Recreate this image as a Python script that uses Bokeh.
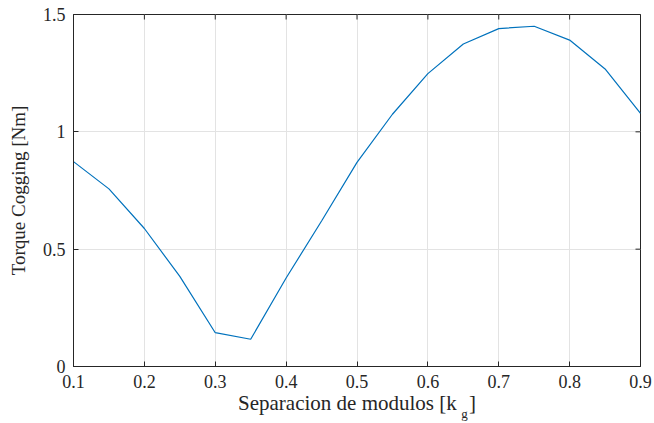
from math import pi
from bokeh.plotting import figure
from bokeh.models import Range1d, FixedTicker, LinearAxis
from bokeh.embed import file_html
from bokeh.resources import INLINE

separation = [0.1, 0.15, 0.2, 0.25, 0.3, 0.35, 0.4, 0.45, 0.5, 0.55, 0.6, 0.65, 0.7, 0.75, 0.8, 0.85, 0.9]
torque = [0.873, 0.757, 0.588, 0.384, 0.144, 0.116, 0.377, 0.620, 0.870, 1.075, 1.248, 1.374, 1.440, 1.450, 1.391, 1.268, 1.079]

x_ticks = [0.1, 0.2, 0.3, 0.4, 0.5, 0.6, 0.7, 0.8, 0.9]
x_tick_labels = ["0.1", "0.2", "0.3", "0.4", "0.5", "0.6", "0.7", "0.8", "0.9"]
y_ticks = [0, 0.5, 1, 1.5]
y_tick_labels = ["0", "0.5", "1", "1.5"]

FONT = "Liberation Serif"
TXT = "#262626"

p = figure(width=654, height=423, output_backend="svg", toolbar_location=None,
           x_range=Range1d(0.1, 0.9), y_range=Range1d(0, 1.5),
           min_border_left=73, min_border_right=14, min_border_top=14, min_border_bottom=54)

p.line(separation, torque, line_color="#0072BD", line_width=1.2)

# inward ticks on top and right edges (half of each dash is clipped by the frame)
p.scatter(x=x_ticks, y=[1.5] * len(x_ticks), marker="dash", angle=pi / 2, size=10,
          line_color=TXT, line_width=1)
p.scatter(x=[0.9] * len(y_ticks), y=y_ticks, marker="dash", size=10,
          line_color=TXT, line_width=1)

p.outline_line_color = TXT
p.outline_line_width = 1
p.background_fill_color = "white"
p.border_fill_color = "white"

for g in (p.xgrid[0], p.ygrid[0]):
    g.grid_line_color = "#e3e3e3"
    g.grid_line_width = 1

xa = p.xaxis[0]
xa.ticker = FixedTicker(ticks=x_ticks)
xa.major_label_overrides = {t: l for t, l in zip(x_ticks, x_tick_labels)}
ya = p.yaxis[0]
ya.ticker = FixedTicker(ticks=y_ticks)
ya.major_label_overrides = {t: l for t, l in zip(y_ticks, y_tick_labels)}

for a in (xa, ya):
    a.major_tick_in = 5
    a.major_tick_out = 0
    a.minor_tick_line_color = None
    a.axis_line_color = TXT
    a.major_tick_line_color = TXT
    a.major_label_text_font = FONT
    a.major_label_text_font_size = "18px"
    a.major_label_text_color = TXT
    a.axis_label_text_font = FONT
    a.axis_label_text_font_style = "normal"
    a.axis_label_text_color = TXT

xa.major_label_standoff = 8
ya.major_label_standoff = 8
ya.axis_label = "Torque Cogging [Nm]"
ya.axis_label_text_font_size = "19px"
ya.axis_label_standoff = 11
xa.axis_label = "Separacion de modulos [k\u2002\u200a]"
xa.axis_label_text_font_size = "21px"
xa.axis_label_standoff = 0

# subscript "g" of the x axis label, drawn as the single label of a bare extra axis
G_POS = 0.6517
gax = LinearAxis(ticker=FixedTicker(ticks=[G_POS]))
gax.major_label_overrides = {G_POS: "g"}
gax.axis_line_color = None
gax.major_tick_line_color = None
gax.minor_tick_line_color = None
gax.major_tick_in = 0
gax.major_tick_out = 0
gax.major_label_standoff = -12
gax.major_label_text_font = FONT
gax.major_label_text_font_size = "13px"
gax.major_label_text_color = TXT
p.add_layout(gax, "below")

open("out.html", "w").write(file_html(p, INLINE))
